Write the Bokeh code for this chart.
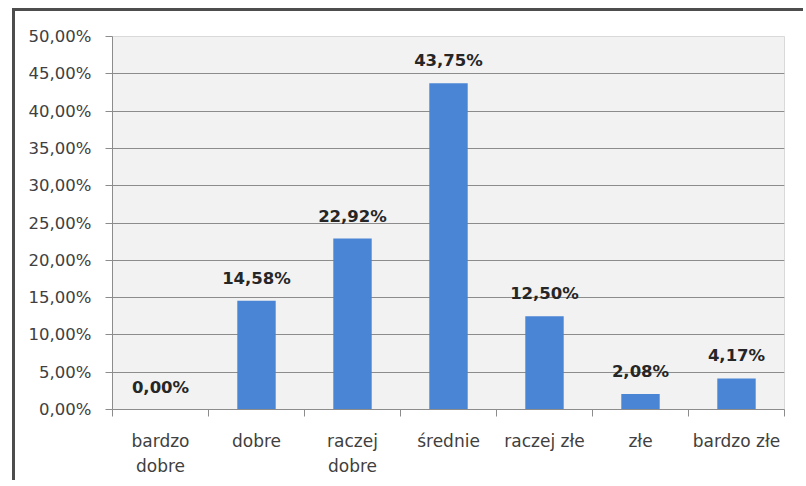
from bokeh.plotting import figure
from bokeh.models import ColumnDataSource, Range1d, FixedTicker, CustomJSTickFormatter
from bokeh.embed import file_html
from bokeh.resources import INLINE
from bokeh.core.properties import value

categories = ["bardzo\ndobre", "dobre", "raczej\ndobre", "średnie", "raczej złe", "złe", "bardzo złe"]
values = [0.00, 14.58, 22.92, 43.75, 12.50, 2.08, 4.17]
value_labels = ["0,00%", "14,58%", "22,92%", "43,75%", "12,50%", "2,08%", "4,17%"]
y_ticks = [0, 5, 10, 15, 20, 25, 30, 35, 40, 45, 50]

xs = [i + 0.5 for i in range(len(categories))]
src = ColumnDataSource(dict(x=xs, top=values, lab=value_labels))

FONT = "DejaVu Sans"

p = figure(width=791, height=472, output_backend="svg", toolbar_location=None,
           x_range=Range1d(0, len(categories)), y_range=Range1d(0, 50),
           min_border_left=97, min_border_right=22, min_border_top=25, min_border_bottom=74)
p.styles = {"border-left": "3px solid #4d4d4d", "border-top": "3px solid #4d4d4d",
            "margin-left": "12px", "margin-top": "8px"}

p.background_fill_color = "#f2f2f2"
p.border_fill_color = None
p.outline_line_color = "#d9d9d9"

p.vbar(x="x", top="top", width=0.4, source=src, fill_color="#4a84d4", line_color=None)
p.text(x="x", y="top", text="lab", source=src, text_align="center", text_baseline="bottom",
       y_offset=-13, text_font=value(FONT), text_font_style="bold", text_font_size="16.5px",
       text_color="#262626")

# y axis
p.yaxis.ticker = FixedTicker(ticks=y_ticks)
p.yaxis.formatter = CustomJSTickFormatter(code="return tick.toFixed(2).replace('.', ',') + '%';")
p.yaxis.axis_line_color = "#8c8c8c"
p.yaxis.major_tick_line_color = "#8c8c8c"
p.yaxis.major_tick_out = 7
p.yaxis.major_tick_in = 0
p.yaxis.minor_tick_line_color = None
p.yaxis.major_label_standoff = 14
p.yaxis.major_label_text_font = FONT
p.yaxis.major_label_text_font_size = "16.5px"
p.yaxis.major_label_text_color = "#404040"

# x axis: labels at centres, ticks between categories
p.xaxis.ticker = FixedTicker(ticks=xs, minor_ticks=list(range(len(categories) + 1)))
p.xaxis.major_label_overrides = {x: c for x, c in zip(xs, categories)}
p.xaxis.axis_line_color = "#8c8c8c"
p.xaxis.major_tick_line_color = None
p.xaxis.minor_tick_line_color = "#8c8c8c"
p.xaxis.minor_tick_out = 7
p.xaxis.minor_tick_in = 0
p.xaxis.major_label_standoff = 14
p.xaxis.major_label_text_font = FONT
p.xaxis.major_label_text_font_size = "17px"
p.xaxis.major_label_text_color = "#404040"
p.xaxis.major_label_text_line_height = 1.25

p.xgrid.grid_line_color = None
p.ygrid.ticker = FixedTicker(ticks=y_ticks)
p.ygrid.grid_line_color = "#8c8c8c"
p.ygrid.grid_line_width = 1

open("out.html", "w").write(file_html(p, INLINE))
